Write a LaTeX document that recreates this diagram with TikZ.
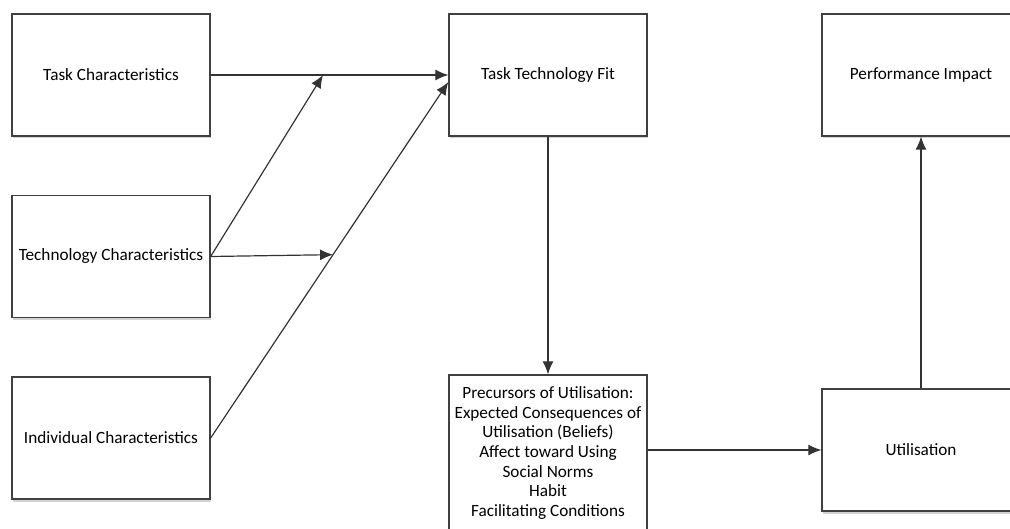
\documentclass[tikz,border=0pt]{standalone}
\usepackage{fontspec}
\setmainfont{Carlito}
\usetikzlibrary{arrows.meta,shadows}

\begin{document}
\begin{tikzpicture}[x=1pt,y=1pt,>={Latex[length=13pt,width=11pt]}]
  \tikzstyle{factor}=[draw=black!75, line width=1.3pt, fill=white, minimum width=198pt, minimum height=122pt, align=center, font=\fontsize{17.2}{19.7}\selectfont, drop shadow={shadow xshift=0.5pt, shadow yshift=-2.5pt, opacity=0.35}]
  \tikzstyle{arrow}=[->, line width=1.2pt, draw=black!80]

  \useasboundingbox (0,0) rectangle (1010,-529);

  \node[factor] (task) at (111,-75) {Task Characteristics};
  \node[factor] (tech) at (111,-256.5) {Technology Characteristics};
  \node[factor] (indiv) at (111,-438) {Individual Characteristics};
  \node[factor] (ttf) at (548,-75) {Task Technology Fit};
  \node[factor] (perf) at (921,-75) {Performance Impact};
  \node[factor, minimum height=156pt] (prec) at (548,-453) {Precursors of Utilisation:\\Expected Consequences of\\Utilisation (Beliefs)\\Affect toward Using\\Social Norms\\Habit\\Facilitating Conditions};
  \node[factor] (util) at (921,-450) {Utilisation};

  \coordinate (j1) at (323,-75);
  \coordinate (ttfin) at ([yshift=-7pt]ttf.west);

  \draw[arrow] (task) -- (ttf);
  \draw[arrow] (tech.east) -- (j1);
  \draw[arrow] (indiv.east) -- coordinate[pos=0.515] (j2) (ttfin);
  \draw[arrow] (tech.east) -- (j2);
  \draw[arrow] (ttf) -- (prec);
  \draw[arrow] (util.west -| prec.east) -- (util.west);
  \draw[arrow] (util) -- (perf);
\end{tikzpicture}
\end{document}
